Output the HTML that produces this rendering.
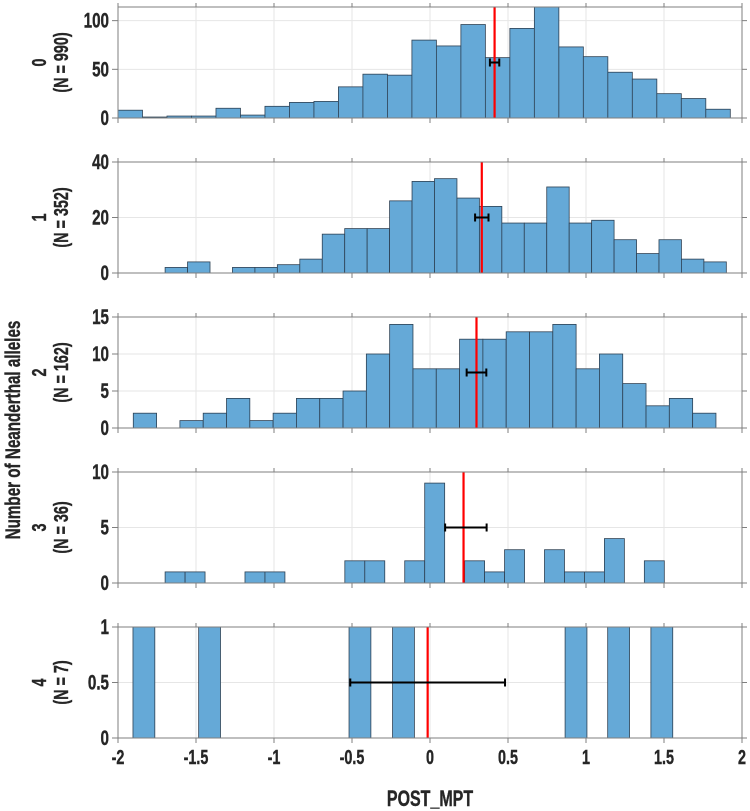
<!DOCTYPE html>
<html><head><meta charset="utf-8"><style>
html,body{margin:0;padding:0;background:#fff;}
svg{display:block;}
text{font-family:"Liberation Sans",sans-serif;font-weight:bold;fill:#262626;stroke:#262626;stroke-width:0.35px;}
</style></head><body>
<svg id="chart" width="750" height="811" viewBox="0 0 750 811" xmlns="http://www.w3.org/2000/svg"></svg>
<script>
// ---- data ----
const xTicks = [-2,-1.5,-1,-0.5,0,0.5,1,1.5,2];
const xTickLabels = ["-2","-1.5","-1","-0.5","0","0.5","1","1.5","2"];
const panelNames = ["0","1","2","3","4"];
const panelN = [990,352,162,36,7];
const binStart = [-2.0,-1.698,-1.902,-1.698,null];
const binWidth = [0.157,0.1439,0.1494,0.128,0.14];
const counts0 = [8,1,2,2,10,3,12,16,17,32,45,44,80,74,96,62,92,114,73,63,47,40,25,20,9];
const counts1 = [2,4,0,2,2,3,5,14,16,16,26,33,34,27,24,18,18,31,18,19,12,7,12,5,4];
const counts2 = [2,0,1,2,4,1,2,4,4,5,10,14,8,8,12,12,13,13,14,8,10,6,3,4,2];
const counts3 = [1,1,0,0,1,1,0,0,0,2,2,0,2,9,0,2,1,3,0,3,1,1,4,0,2];
const bars4Left = [-1.904,-1.483,-0.519,-0.24,0.866,1.139,1.416];
const counts4 = [1,1,1,1,1,1,1];
const yMax = [114,40,15,10,1];
const yTicks0 = [0,50,100];
const yTicks1 = [0,20,40];
const yTicks2 = [0,5,10,15];
const yTicks3 = [0,5,10];
const yTicks4 = [0,0.5,1];
const meanVals = [0.414,0.332,0.298,0.215,-0.015];
const errY = [57,20,7.5,5,0.5];
const errHalf = [0.03,0.043,0.063,0.133,0.496];
const errCenter = [0.414,0.332,0.298,0.23,-0.015];

const allCounts=[counts0,counts1,counts2,counts3,counts4];
const allYTicks=[yTicks0,yTicks1,yTicks2,yTicks3,yTicks4];
const panelTop=[7,162,317,472,627];
const panelH=111;
const X0=118, X1=742;
const xs = v => X0 + (v+2)/4*(X1-X0);
const NS="http://www.w3.org/2000/svg";
const svg=document.getElementById('chart');
function mk(tag,attrs,parent){const e=document.createElementNS(NS,tag);for(const k in attrs)e.setAttribute(k,attrs[k]);(parent||svg).appendChild(e);return e;}
const SX=0.8, SY=1.12;
function label(g,x,y,anchor,size,str,rot){
  const tf = rot ? `translate(${x},${y}) rotate(-90) scale(${SX},${SY})` : `translate(${x},${y}) scale(${SX},${SY})`;
  const t=mk('text',{x:0,y:0,'text-anchor':anchor,'font-size':size,transform:tf},g);
  t.textContent=str;
  return t;
}

for(let p=0;p<5;p++){
  const top=panelTop[p], bot=top+panelH;
  const ys = v => bot - v/yMax[p]*panelH;
  const g=mk('g',{});
  
  
  xTicks.forEach(t=>{ if(t>-2&&t<2){const l=mk('line',{x1:xs(t),x2:xs(t),y1:top,y2:bot,stroke:'#e6e6e6','stroke-width':1},g);
    
    }});
  allYTicks[p].forEach(t=>{const l=mk('line',{x1:X0,x2:X1,y1:ys(t),y2:ys(t),stroke:'#e6e6e6','stroke-width':1},g);
    
    });
  const c=allCounts[p];
  for(let i=0;i<c.length;i++){
    if(!c[i])continue;
    const left = p===4 ? bars4Left[i] : binStart[p]+i*binWidth[p];
    const x=xs(left), w=xs(left+binWidth[p])-x;
    const r=mk('rect',{x:x,y:ys(c[i]),width:w,height:bot-ys(c[i]),fill:'#65a9d7',stroke:'#2d4154','stroke-width':0.8},g);
    
    
  }
  const m=mk('line',{x1:xs(meanVals[p]),x2:xs(meanVals[p]),y1:top,y2:bot,stroke:'#ff0000','stroke-width':2.2},g);
  
  
  const ey=ys(errY[p]), ex1=xs(errCenter[p]-errHalf[p]), ex2=xs(errCenter[p]+errHalf[p]);
  const eb=mk('path',{d:`M${ex1},${ey}H${ex2}M${ex1},${ey-4}V${ey+4}M${ex2},${ey-4}V${ey+4}`,stroke:'#000',fill:'none','stroke-width':2},g);
  
  
  const f=mk('rect',{x:X0,y:top,width:X1-X0,height:panelH,fill:'none',stroke:'#7f7f7f','stroke-width':1},g);
  
  
  xTicks.forEach((t,k)=>{
    mk('line',{x1:xs(t),x2:xs(t),y1:bot,y2:bot+5,stroke:'#7f7f7f'},g);
    mk('line',{x1:xs(t),x2:xs(t),y1:top,y2:top-4,stroke:'#7f7f7f'},g);
    if(p===4){const tx=label(g,xs(t),bot+26,'middle',18,xTickLabels[k],false);
      
      }
  });
  allYTicks[p].forEach(t=>{
    mk('line',{x1:X0-6,x2:X0,y1:ys(t),y2:ys(t),stroke:'#7f7f7f'},g);
    mk('line',{x1:X1,x2:X1+5,y1:ys(t),y2:ys(t),stroke:'#7f7f7f'},g);
    const tx=label(g,X0-9,ys(t)+7,'end',19,String(t),false);
    
    
  });
  const cy=top+panelH/2;
  const t1=label(g,46,cy,'middle',18,panelNames[p],true);
  
  
  const t2=label(g,68,cy,'middle',18,'(N = '+panelN[p]+')',true);
  
  
}
const yt=label(svg,20,430,'middle',19,'Number of Neanderthal alleles',true);


const xt=label(svg,430,806,'middle',20,'POST_MPT',false);


</script>
</body></html>
